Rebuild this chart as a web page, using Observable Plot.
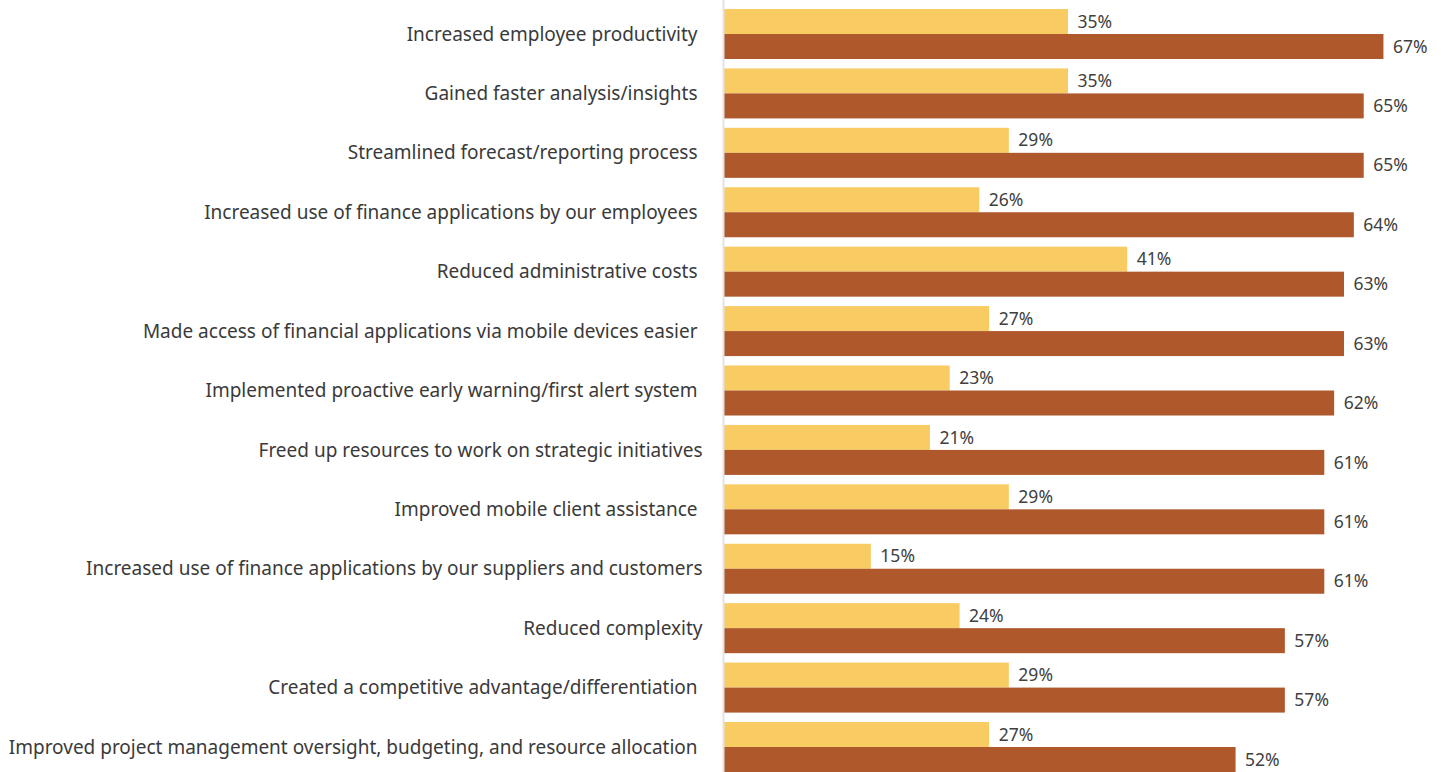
<!DOCTYPE html>
<html>
<head>
<meta charset="utf-8">
<script src="https://cdn.jsdelivr.net/npm/d3@7"></script>
<script src="https://cdn.jsdelivr.net/npm/@observablehq/plot@0.6"></script>
<style>
  html, body { margin: 0; padding: 0; background: #fff; }
  #chart svg text { white-space: pre; }
</style>
</head>
<body>
<div id="chart"></div>
<script>
const categories = [
  "Increased employee productivity ",
  "Gained faster analysis/insights ",
  "Streamlined forecast/reporting process ",
  "Increased use of finance applications by our employees ",
  "Reduced administrative costs ",
  "Made access of financial applications via mobile devices easier ",
  "Implemented proactive early warning/first alert system ",
  "Freed up resources to work on strategic initiatives",
  "Improved mobile client assistance ",
  "Increased use of finance applications by our suppliers and customers",
  "Reduced complexity",
  "Created a competitive advantage/differentiation ",
  "Improved project management oversight, budgeting, and resource allocation "
];
const seriesA = [35, 35, 29, 26, 41, 27, 23, 21, 29, 15, 24, 29, 27];
const seriesB = [67, 65, 65, 64, 63, 63, 62, 61, 61, 61, 57, 57, 52];
const colorA = "#F9CB63";
const colorB = "#AE582C";

const dataA = categories.map((c, i) => ({category: c, value: seriesA[i]}));
const dataB = categories.map((c, i) => ({category: c, value: seriesB[i]}));

const chart = Plot.plot({
  width: 1441,
  height: 772,
  marginLeft: 723,
  marginRight: 28,
  marginTop: 9,
  marginBottom: 0,
  style: {fontFamily: "'Noto Sans', sans-serif", color: "#333"},
  x: {domain: [0, 70], axis: null},
  y: {domain: categories, paddingInner: 0.1585, paddingOuter: 0, round: false, label: null, tickSize: 0, tickPadding: 21},
  marks: [
    Plot.barX(dataA, {y: "category", x: "value", fill: colorA, insetBottom: 25}),
    Plot.barX(dataB, {y: "category", x: "value", fill: colorB, insetTop: 25}),
    Plot.text(dataA, {y: "category", x: "value", text: d => d.value + "%", dy: -12.5, dx: 9, textAnchor: "start", fontSize: 17.5, fill: "#404040"}),
    Plot.text(dataB, {y: "category", x: "value", text: d => d.value + "%", dy: 12.5, dx: 9, textAnchor: "start", fontSize: 17.5, fill: "#404040"}),
    Plot.ruleX([0], {stroke: "#e3e3e3", strokeWidth: 2, insetTop: -9, insetBottom: -5})
  ]
});
chart.querySelectorAll("g[aria-label='y-axis tick label']").forEach(g => { g.setAttribute("font-size", 19); g.setAttribute("fill", "#3a3a3a"); });
document.getElementById("chart").appendChild(chart);
</script>
</body>
</html>
